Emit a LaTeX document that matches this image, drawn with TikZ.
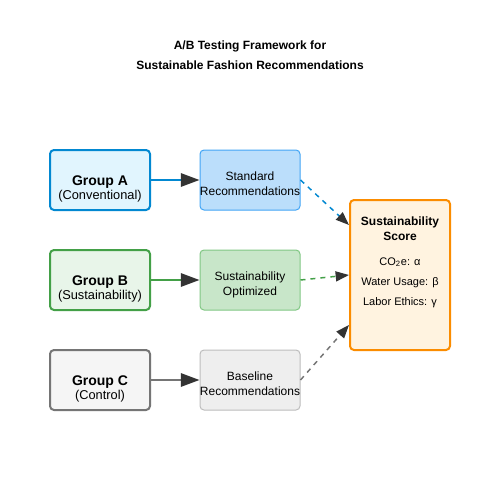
\documentclass[tikz,border=0pt]{standalone}
\usepackage{fontspec}
\setmainfont{Liberation Sans}
\usetikzlibrary{arrows.meta,calc}
\definecolor{aFill}{HTML}{E1F5FE}\definecolor{aLine}{HTML}{0288D1}
\definecolor{raFill}{HTML}{BBDEFB}\definecolor{raLine}{HTML}{42A5F5}
\definecolor{bFill}{HTML}{E8F5E9}\definecolor{bLine}{HTML}{43A047}
\definecolor{rbFill}{HTML}{C8E6C9}\definecolor{rbLine}{HTML}{81C784}
\definecolor{cFill}{HTML}{F5F5F5}\definecolor{cLine}{HTML}{757575}
\definecolor{rcFill}{HTML}{EEEEEE}\definecolor{rcLine}{HTML}{BDBDBD}
\definecolor{sFill}{HTML}{FFF3E0}\definecolor{sLine}{HTML}{FB8C00}
\definecolor{tipc}{HTML}{333333}
\tikzset{
  groupbox/.style={draw,line width=1.5pt,rounded corners=3pt,minimum width=75pt,minimum height=45pt,inner sep=0pt},
  recbox/.style={draw,line width=0.75pt,rounded corners=3pt,minimum width=75pt,minimum height=45pt,inner sep=0pt},
  scorebox/.style={draw,line width=1.5pt,rounded corners=3pt,minimum width=75pt,minimum height=112.5pt,inner sep=0pt},
  txt/.style={anchor=base,inner sep=0pt,font=\fontsize{9}{10}\selectfont},
  subtxt/.style={anchor=base,inner sep=0pt,font=\fontsize{9.6}{11}\selectfont},
  bigtxt/.style={anchor=base,inner sep=0pt,font=\fontsize{10.5}{12}\selectfont\bfseries},
  titletxt/.style={anchor=base,inner sep=0pt,font=\fontsize{9}{10}\selectfont\bfseries},
  stxt/.style={anchor=base,inner sep=0pt,font=\fontsize{8.25}{9}\selectfont},
  solidarrow/.style={line width=1.5pt,-{Triangle[length=14pt,width=10pt,color=tipc]}},
  dasharrow/.style={line width=1.1pt,dash pattern=on 3.75pt off 3.75pt,-{Triangle[length=10pt,width=7.5pt,color=tipc]}},
}
\begin{document}
\begin{tikzpicture}[x=0.75pt,y=-0.75pt]
\useasboundingbox[fill=white] (0,0) rectangle (500,500);
% title
\node[titletxt] (t1) at (250,49) {A/B Testing Framework for};
\node[titletxt] (t2) at (250,69) {Sustainable Fashion Recommendations};
% groups
\node[groupbox,fill=aFill,draw=aLine] (ga) at (100,180) {};
\node[groupbox,fill=bFill,draw=bLine] (gb) at (100,280) {};
\node[groupbox,fill=cFill,draw=cLine] (gc) at (100,380) {};
\node[bigtxt] (gat) at (100,185) {Group A};
\node[subtxt] (gas) at (100,199) {(Conventional)};
\node[bigtxt] (gbt) at (100,285) {Group B};
\node[subtxt] (gbs) at (100,299) {(Sustainability)};
\node[bigtxt] (gct) at (100,385) {Group C};
\node[subtxt] (gcs) at (100,399) {(Control)};
% recommendations
\node[recbox,fill=raFill,draw=raLine] (ra) at (250,180) {};
\node[recbox,fill=rbFill,draw=rbLine] (rb) at (250,280) {};
\node[recbox,fill=rcFill,draw=rcLine] (rc) at (250,380) {};
\node[txt] (rat1) at (250,180) {Standard};
\node[txt] (rat2) at (250,195) {Recommendations};
\node[txt] (rbt1) at (250,280) {Sustainability};
\node[txt] (rbt2) at (250,295) {Optimized};
\node[txt] (rct1) at (250,380) {Baseline};
\node[txt] (rct2) at (250,395) {Recommendations};
% score
\node[scorebox,fill=sFill,draw=sLine] (sc) at (400,275) {};
\node[titletxt] (sct1) at (400,225) {Sustainability};
\node[titletxt] (sct2) at (400,240) {Score};
\node[stxt] (sc1) at (400,265) {CO\textsubscript{2}e: α};
\node[stxt] (sc2) at (400,285) {Water Usage: β};
\node[stxt] (sc3) at (400,305) {Labor Ethics: γ};
% connectors
\coordinate (sa) at ($(sc.west)+(0,-50)$);
\coordinate (sb) at ($(sc.west)+(0,0)$);
\coordinate (sC) at ($(sc.west)+(0,50)$);
\draw[solidarrow,draw=aLine] (ga.east) -- (ra.west);
\draw[solidarrow,draw=bLine] (gb.east) -- (rb.west);
\draw[solidarrow,draw=cLine] (gc.east) -- (rc.west);
\draw[dasharrow,draw=aLine] (ra.east) -- (sa);
\draw[dasharrow,draw=bLine] (rb.east) -- (sb);
\draw[dasharrow,draw=cLine] (rc.east) -- (sC);
\end{tikzpicture}
\end{document}
